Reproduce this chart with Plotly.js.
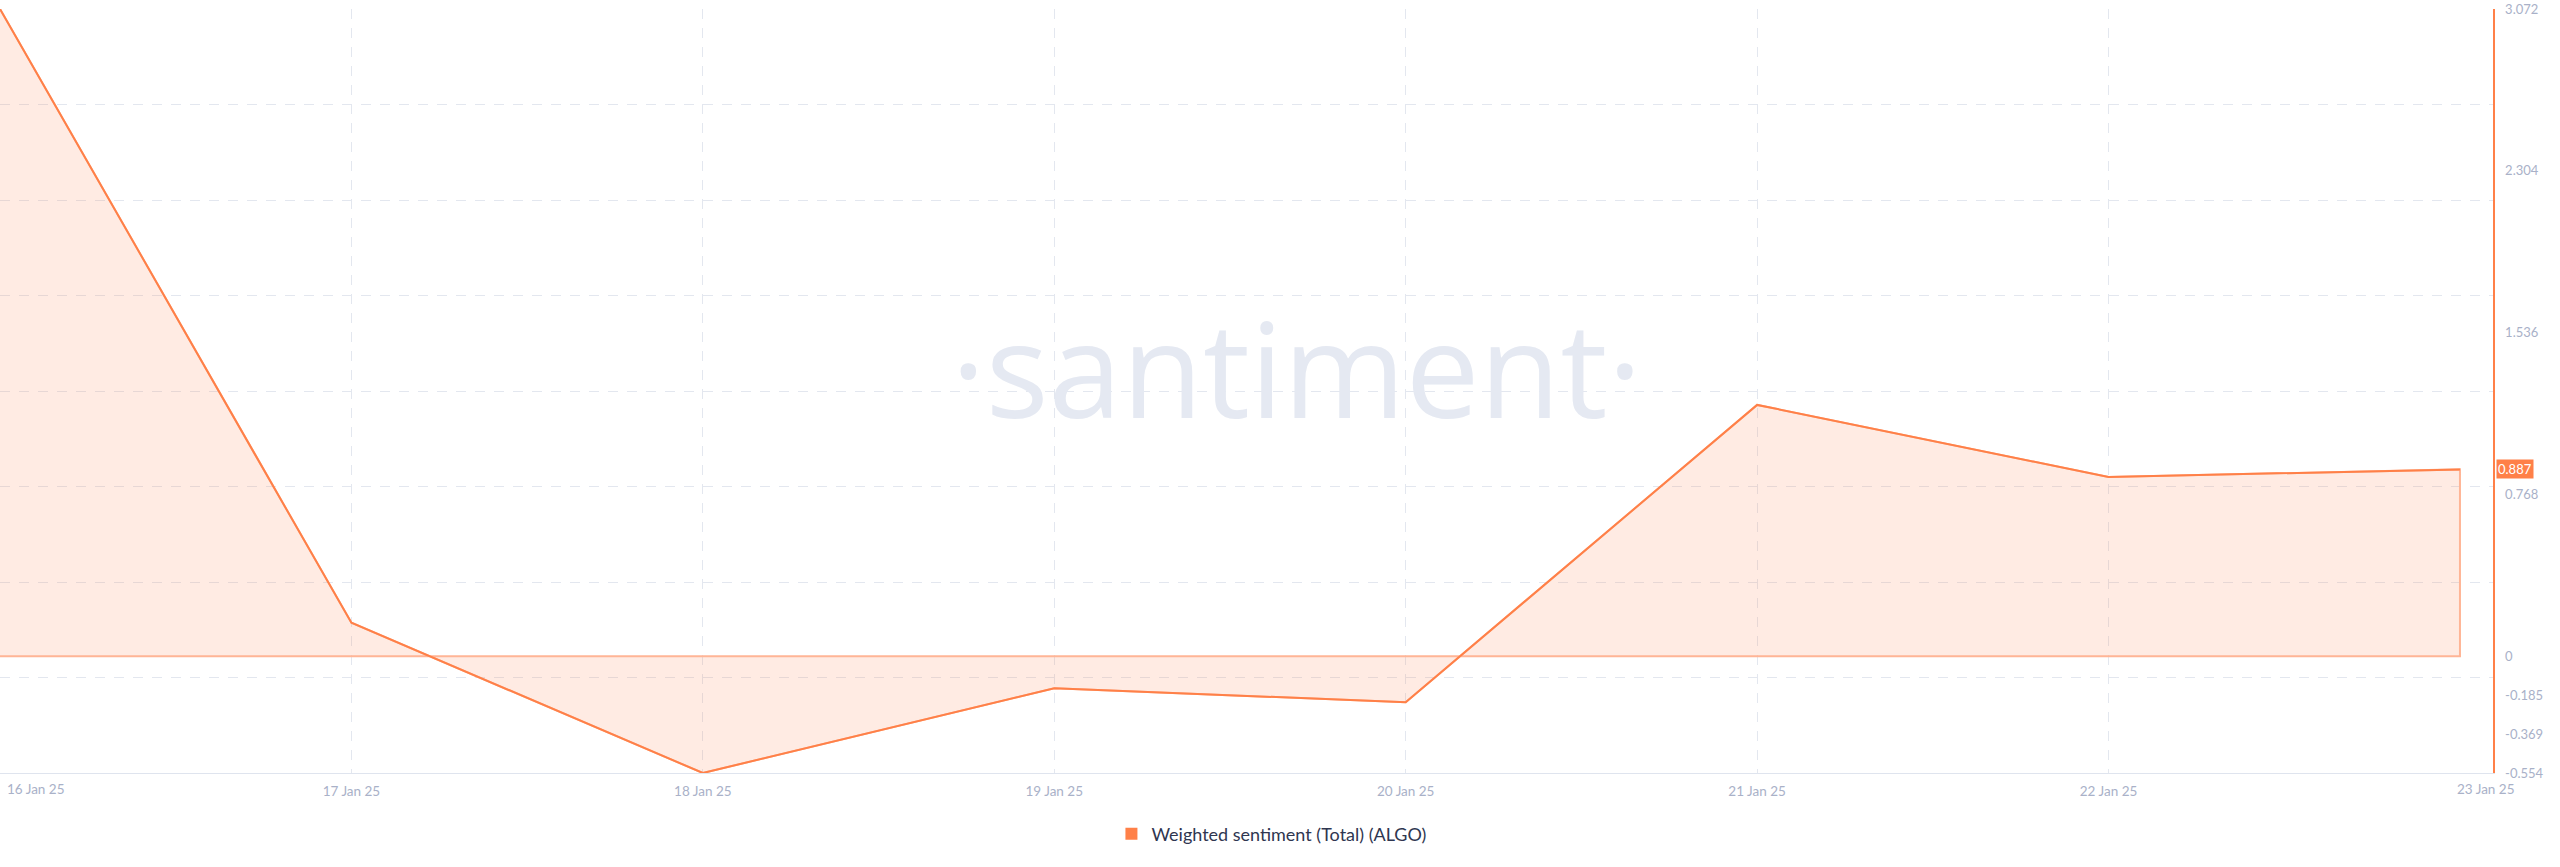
<!DOCTYPE html>
<html>
<head>
<meta charset="utf-8">
<script src="https://cdn.plot.ly/plotly-3.0.1.min.js"></script>
<style>
  html, body { margin: 0; padding: 0; background: #ffffff; }
  #chart { width: 2560px; height: 867px; }
</style>
</head>
<body>
<div id="chart"></div>
<script>
// ---- data ----
const dates = ['2025-01-16', '2025-01-17', '2025-01-18', '2025-01-19', '2025-01-20', '2025-01-21', '2025-01-22', '2025-01-23'];
const dateLabels = ['16 Jan 25', '17 Jan 25', '18 Jan 25', '19 Jan 25', '20 Jan 25', '21 Jan 25', '22 Jan 25', '23 Jan 25'];
const sentiment = [3.072, 0.159, -0.554, -0.152, -0.218, 1.193, 0.851, 0.887];
const yTickVals = [3.072, 2.304, 1.536, 0.768, 0, -0.185, -0.369, -0.554];
const yTickText = ['3.072', '2.304', '1.536', '0.768', '0', '-0.185', '-0.369', '-0.554'];
const seriesName = 'Weighted sentiment (Total) (ALGO)';

// ---- styles ----
const ORANGE = '#ff8048';
const ORANGE_LIGHT = '#ffb596';
const FILL = 'rgba(255,132,80,0.16)';
const GRID = '#e3e7ef';
const LABEL = '#a9b1c8';
const FONT = 'Lato, "Open Sans", "Liberation Sans", sans-serif';

const yMin = Math.min(...yTickVals), yMax = Math.max(...yTickVals);
const nGrid = 8;
const gridVals = [];
for (let k = 0; k <= nGrid; k++) gridVals.push(yMin + (yMax - yMin) * k / nGrid);

const lastIdx = dates.length - 1;
const DAY = 86400000;
const xStart = new Date(dates[0] + 'T00:00:00Z').getTime();
const xEnd = new Date(dates[lastIdx] + 'T00:00:00Z').getTime() + 0.094 * DAY;
const iso = ms => new Date(ms).toISOString().replace('T', ' ').replace('Z', '');

// fill polygon (area between series and zero)
const fillX = dates.concat([dates[lastIdx], dates[0]]);
const fillY = sentiment.concat([0, 0]);

const traces = [
  {
    x: fillX, y: fillY, type: 'scatter', mode: 'lines',
    fill: 'toself', fillcolor: FILL,
    line: { color: ORANGE_LIGHT, width: 2 },
    hoverinfo: 'skip', showlegend: false, yaxis: 'y'
  },
  {
    x: dates, y: sentiment, type: 'scatter', mode: 'lines',
    line: { color: ORANGE, width: 2 },
    name: seriesName, showlegend: false, yaxis: 'y2'
  },
  {
    x: [dates[0]], y: [null], type: 'scatter', mode: 'markers',
    marker: { symbol: 'square', size: 12, color: ORANGE },
    name: seriesName, showlegend: true, yaxis: 'y2'
  }
];

const annotations = [
  {
    x: 0.52, y: 0.532, xref: 'paper', yref: 'paper',
    text: '·santiment·', showarrow: false,
    xanchor: 'center', yanchor: 'middle',
    font: { family: '"Open Sans", sans-serif', size: 132, weight: 500, color: '#e5e9f2' }
  },
  {
    x: 1, xref: 'paper', y: sentiment[lastIdx], yref: 'y',
    text: sentiment[lastIdx].toFixed(3), showarrow: false,
    xanchor: 'left', yanchor: 'middle', xshift: 3,
    bgcolor: ORANGE, borderpad: 1,
    font: { family: FONT, size: 13, color: '#ffffff' }
  },
  {
    x: dates[0], xref: 'x', y: 0, yref: 'paper',
    text: dateLabels[0], showarrow: false,
    xanchor: 'left', yanchor: 'top', xshift: 5, yshift: -6,
    font: { family: FONT, size: 13.5, color: LABEL }
  },
  {
    x: dates[lastIdx], xref: 'x', y: 0, yref: 'paper',
    text: dateLabels[lastIdx], showarrow: false,
    xanchor: 'left', yanchor: 'top', xshift: -5, yshift: -6,
    font: { family: FONT, size: 13.5, color: LABEL }
  }
];

const layout = {
  width: 2560, height: 867,
  margin: { l: 0, r: 67, t: 9, b: 94, pad: 0 },
  paper_bgcolor: '#ffffff', plot_bgcolor: '#ffffff',
  font: { family: FONT, size: 13, color: LABEL },
  showlegend: true,
  legend: {
    orientation: 'h', x: 0.51, xanchor: 'center', y: -0.08, yanchor: 'middle',
    font: { family: FONT, size: 18, color: '#2f3650' },
    bgcolor: 'rgba(0,0,0,0)'
  },
  xaxis: {
    type: 'date', range: [iso(xStart), iso(xEnd)],
    tickmode: 'array', tickvals: dates.slice(0, lastIdx),
    ticktext: [''].concat(dateLabels.slice(1, lastIdx)),
    ticks: '', ticklabelstandoff: 6,
    showgrid: true, gridcolor: GRID, griddash: '10px,9px', gridwidth: 1,
    showline: true, linecolor: '#dfe4ee', linewidth: 1,
    zeroline: false, fixedrange: true,
    tickfont: { family: FONT, size: 13.5, color: LABEL }
  },
  yaxis: {
    side: 'right', range: [yMin, yMax],
    tickmode: 'array', tickvals: yTickVals, ticktext: yTickText,
    ticks: '', ticklabelstandoff: 8,
    showgrid: false, zeroline: false,
    showline: true, linecolor: ORANGE, linewidth: 1.5,
    tickfont: { family: FONT, size: 13, color: LABEL },
    fixedrange: true
  },
  yaxis2: {
    overlaying: 'y', side: 'right', range: [yMin, yMax],
    tickmode: 'array', tickvals: gridVals,
    showticklabels: false, ticks: '',
    showgrid: true, gridcolor: GRID, griddash: '10px,9px', gridwidth: 1,
    zeroline: false, showline: false, fixedrange: true
  },
  annotations: annotations
};

Plotly.newPlot('chart', traces, layout, { displayModeBar: false, staticPlot: true });
</script>
</body>
</html>
